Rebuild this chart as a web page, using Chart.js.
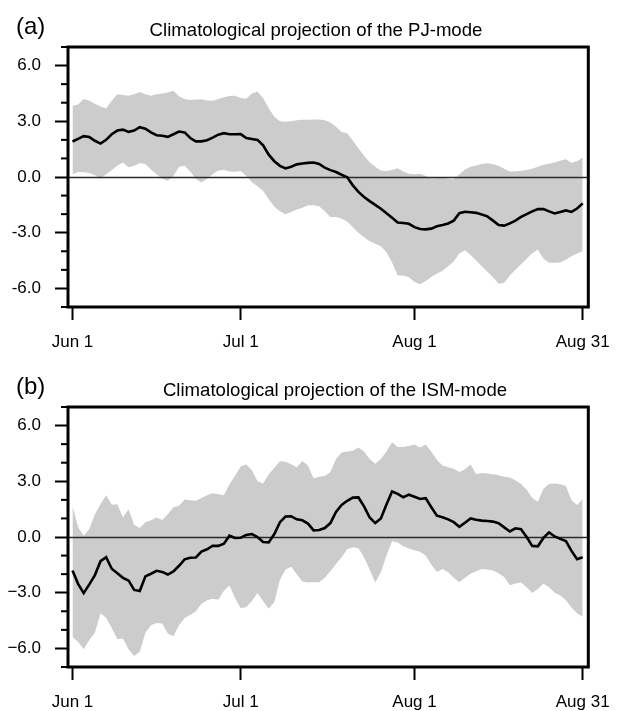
<!DOCTYPE html>
<html>
<head>
<meta charset="utf-8">
<script src="https://cdn.jsdelivr.net/npm/chart.js@4.4.1/dist/chart.umd.min.js"></script>
<style>
  html, body { margin: 0; padding: 0; background: #fff; overflow: hidden; }
  .panel { position: absolute; left: 0; width: 622px; height: 360px; }
</style>
</head>
<body>
<div class="panel" style="top:0"><canvas id="pj" width="622" height="360"></canvas></div>
<div class="panel" style="top:360px"><canvas id="ism" width="622" height="360"></canvas></div>
<script>
// daily values, Jun 1 (day 0) .. Aug 31 (day 91)
const pjMean = [1.91, 2.05, 2.2, 2.15, 1.95, 1.8, 2.0, 2.3, 2.5, 2.55, 2.43, 2.5, 2.68, 2.6, 2.4, 2.25, 2.22, 2.16, 2.3, 2.45,
  2.4, 2.1, 1.92, 1.92, 1.98, 2.12, 2.28, 2.36, 2.3, 2.3, 2.31, 2.1, 2.05, 2.0, 1.7, 1.2, 0.85, 0.6, 0.46, 0.55,
  0.68, 0.73, 0.76, 0.78, 0.7, 0.5, 0.37, 0.27, 0.12, -0.02, -0.45, -0.8, -1.08, -1.3, -1.5, -1.71, -1.95, -2.2, -2.45, -2.48,
  -2.52, -2.7, -2.8, -2.82, -2.78, -2.65, -2.58, -2.5, -2.35, -1.95, -1.87, -1.9, -1.93, -2.02, -2.12, -2.35, -2.58, -2.62, -2.5, -2.35,
  -2.15, -2.0, -1.85, -1.72, -1.73, -1.85, -1.96, -1.88, -1.8, -1.88, -1.7, -1.42];
const pjUpper = [3.83, 3.9, 4.2, 4.1, 3.95, 3.8, 3.69, 4.1, 4.45, 4.42, 4.38, 4.45, 4.58, 4.45, 4.38, 4.45, 4.5, 4.55, 4.64, 4.35,
  4.2, 4.15, 4.17, 4.19, 4.12, 4.1, 4.2, 4.3, 4.36, 4.37, 4.25, 4.22, 4.5, 4.6, 4.25, 3.7, 3.25, 3.0, 2.97, 3.0,
  3.05, 3.08, 3.08, 3.1, 3.1, 3.05, 2.94, 2.7, 2.42, 2.36, 1.95, 1.55, 1.15, 0.8, 0.55, 0.35, 0.32, 0.38, 0.47, 0.3,
  0.18, 0.15, 0.18, 0.05, -0.08, -0.05, -0.02, -0.1, -0.12, 0.15, 0.4, 0.55, 0.62, 0.7, 0.74, 0.68, 0.6, 0.45, 0.3, 0.3,
  0.34, 0.38, 0.45, 0.55, 0.66, 0.72, 0.78, 0.88, 0.95, 0.77, 0.85, 1.05];
const pjLower = [0.15, 0.27, 0.25, 0.22, 0.1, -0.08, 0.15, 0.38, 0.6, 0.78, 0.52, 0.6, 0.75, 0.7, 0.4, 0.15, -0.1, -0.2, 0.05, 0.55,
  0.6, 0.3, -0.1, -0.3, -0.1, 0.15, 0.35, 0.38, 0.3, 0.28, 0.32, 0.05, -0.28, -0.5, -0.76, -1.2, -1.6, -1.85, -2.0, -1.88,
  -1.75, -1.66, -1.52, -1.52, -1.57, -1.85, -2.15, -2.15, -2.25, -2.4, -2.7, -3.0, -3.25, -3.46, -3.6, -3.73, -4.05, -4.6, -5.3, -5.3,
  -5.4, -5.65, -5.78, -5.6, -5.38, -5.2, -5.05, -4.8, -4.55, -4.1, -3.95, -4.2, -4.5, -4.8, -5.1, -5.4, -5.75, -5.7, -5.3, -5.0,
  -4.7, -4.4, -4.1, -3.9, -4.4, -4.62, -4.62, -4.6, -4.45, -4.27, -4.12, -4.0];

const ismMean = [-1.8, -2.52, -3.02, -2.55, -2.05, -1.3, -1.09, -1.71, -1.95, -2.2, -2.34, -2.85, -2.91, -2.12, -1.98, -1.82, -1.88, -2.02, -1.85, -1.55,
  -1.2, -1.12, -1.1, -0.79, -0.66, -0.47, -0.48, -0.36, 0.07, -0.05, -0.04, 0.11, 0.16, 0.0, -0.27, -0.29, 0.16, 0.8, 1.1, 1.12,
  0.95, 0.9, 0.72, 0.36, 0.38, 0.48, 0.75, 1.35, 1.73, 1.95, 2.12, 2.13, 1.65, 1.05, 0.75, 1.0, 1.75, 2.45, 2.32, 2.14,
  2.28, 2.17, 2.05, 2.09, 1.6, 1.15, 1.06, 0.95, 0.8, 0.55, 0.77, 1.0, 0.93, 0.88, 0.86, 0.83, 0.74, 0.52, 0.3, 0.47,
  0.42, 0.0, -0.48, -0.5, -0.05, 0.25, 0.03, -0.1, -0.22, -0.75, -1.2, -1.09];
const ismUpper = [1.68, 0.52, 0.07, 0.43, 1.23, 1.77, 2.25, 1.73, 1.77, 1.05, 1.5, 0.66, 0.48, 0.8, 0.9, 1.05, 0.91, 1.23, 1.6, 1.68,
  2.02, 1.98, 1.95, 2.1, 2.25, 2.35, 2.3, 2.25, 2.84, 3.3, 3.8, 3.9, 3.6, 3.0, 2.88, 3.38, 3.73, 4.08, 4.05, 3.92,
  3.75, 4.09, 3.85, 3.15, 3.25, 3.29, 3.5, 4.2, 4.55, 4.6, 4.65, 4.82, 4.6, 4.2, 3.95, 4.2, 4.6, 5.1, 4.85, 4.85,
  4.9, 4.98, 4.82, 4.98, 4.6, 4.15, 3.85, 3.75, 3.68, 3.5, 3.65, 3.9, 3.38, 3.45, 3.42, 3.38, 3.32, 3.25, 3.2, 3.05,
  2.85, 2.55, 2.1, 1.9, 2.6, 2.85, 2.88, 2.84, 2.75, 1.98, 1.72, 2.04];
const ismLower = [-5.38, -5.64, -6.05, -5.55, -5.15, -4.1, -4.35, -4.9, -5.5, -5.46, -6.05, -6.41, -6.18, -5.15, -4.75, -4.63, -4.66, -5.2, -5.34, -4.75,
  -4.36, -4.2, -4.0, -3.6, -3.4, -3.32, -3.38, -2.9, -2.61, -3.3, -3.84, -3.77, -3.45, -3.02, -3.45, -3.86, -3.5, -2.3, -1.75, -1.6,
  -2.0, -2.4, -2.45, -2.44, -2.43, -2.2, -1.85, -1.45, -1.09, -0.66, -0.55, -0.6, -1.09, -1.75, -2.45, -1.9, -1.0, -0.23, -0.3, -0.5,
  -0.62, -0.72, -0.8, -1.0, -1.5, -1.89, -1.72, -1.9, -2.2, -2.43, -2.2, -1.98, -1.85, -1.72, -1.75, -1.8, -1.95, -2.15, -2.6, -2.5,
  -2.45, -2.7, -3.02, -2.8, -2.5, -2.7, -3.0, -3.15, -3.41, -3.8, -4.1, -4.3];

const tickDays = [0, 30, 61, 91];
const tickNames = ['Jun 1', 'Jul 1', 'Aug 1', 'Aug 31'];
const yTicks = [-6, -3, 0, 3, 6];

const FONT = "'Liberation Sans', Arial, Helvetica, sans-serif";

function decor(label, title, titleX) {
  return {
    id: 'decor',
    beforeDatasetDraw(chart, args) {
      if (args.index !== 0) return;
      const { ctx, chartArea: a, scales: { y } } = chart;
      const y0 = Math.round(y.getPixelForValue(0)) + 0.5;
      ctx.save();
      ctx.strokeStyle = '#2a2a2a';
      ctx.lineWidth = 1.3;
      ctx.beginPath();
      ctx.moveTo(a.left, y0);
      ctx.lineTo(a.right, y0);
      ctx.stroke();
      ctx.restore();
    },
    afterDraw(chart) {
      const { ctx, chartArea: a, scales: { y } } = chart;
      ctx.save();
      // minor ticks on the y axis
      ctx.strokeStyle = '#000';
      ctx.lineWidth = 2;
      for (let v = -7; v <= 7; v++) {
        if (v % 3 === 0) continue;
        const py = y.getPixelForValue(v);
        ctx.beginPath();
        ctx.moveTo(a.left - 7, py);
        ctx.lineTo(a.left, py);
        ctx.stroke();
      }
      ctx.lineWidth = 3;
      ctx.strokeRect(a.left, a.top, a.right - a.left, a.bottom - a.top);
      ctx.fillStyle = '#000';
      ctx.textBaseline = 'alphabetic';
      ctx.textAlign = 'left';
      ctx.font = '24px ' + FONT;
      ctx.fillText(label, 16, a.top - 13);
      ctx.textAlign = 'center';
      ctx.font = '18.6px ' + FONT;
      ctx.fillText(title, titleX, a.top - 11);
      ctx.restore();
    }
  };
}

function panel(id, mean, upper, lower, label, title, titleX, minus) {
  const days = mean.map((_, i) => i);
  return new Chart(document.getElementById(id), {
    type: 'line',
    data: {
      labels: days,
      datasets: [
        { data: mean, borderColor: '#000', borderWidth: 2.6, pointRadius: 0, fill: false, tension: 0 },
        { data: lower, borderWidth: 0, borderColor: 'rgba(0,0,0,0)', pointRadius: 0, fill: false },
        { data: upper, borderWidth: 0, borderColor: 'rgba(0,0,0,0)', pointRadius: 0, fill: '-1', backgroundColor: '#cccccc' }
      ]
    },
    options: {
      responsive: false,
      animation: false,
      layout: { padding: { left: 0, right: 33, top: 47, bottom: 0 } },
      plugins: { legend: { display: false }, tooltip: { enabled: false } },
      scales: {
        x: {
          type: 'linear',
          min: -0.8,
          max: 92,
          afterFit: s => { s.height = 53; },
          afterBuildTicks: s => { s.ticks = tickDays.map(v => ({ value: v })); },
          border: { display: false },
          grid: { drawOnChartArea: false, tickLength: 13, tickWidth: 2, tickColor: '#000' },
          ticks: {
            callback: v => tickNames[tickDays.indexOf(v)],
            color: '#000',
            font: { family: FONT, size: 17 },
            padding: 12,
            maxRotation: 0,
            autoSkip: false
          }
        },
        y: {
          min: -7,
          max: 7,
          afterFit: s => { s.width = 68; },
          afterBuildTicks: s => { s.ticks = yTicks.map(v => ({ value: v })); },
          border: { display: false },
          grid: { drawOnChartArea: false, tickLength: 13, tickWidth: 2, tickColor: '#000' },
          ticks: {
            callback: v => (v < 0 ? minus : '') + Math.abs(v).toFixed(1),
            color: '#000',
            font: { family: FONT, size: 17 },
            padding: 14
          }
        }
      }
    },
    plugins: [decor(label, title, titleX)]
  });
}

panel('pj', pjMean, pjUpper, pjLower, '(a)', 'Climatological projection of the PJ-mode', 316, '-');
panel('ism', ismMean, ismUpper, ismLower, '(b)', 'Climatological projection of the ISM-mode', 335, '\u2212');
</script>
</body>
</html>
